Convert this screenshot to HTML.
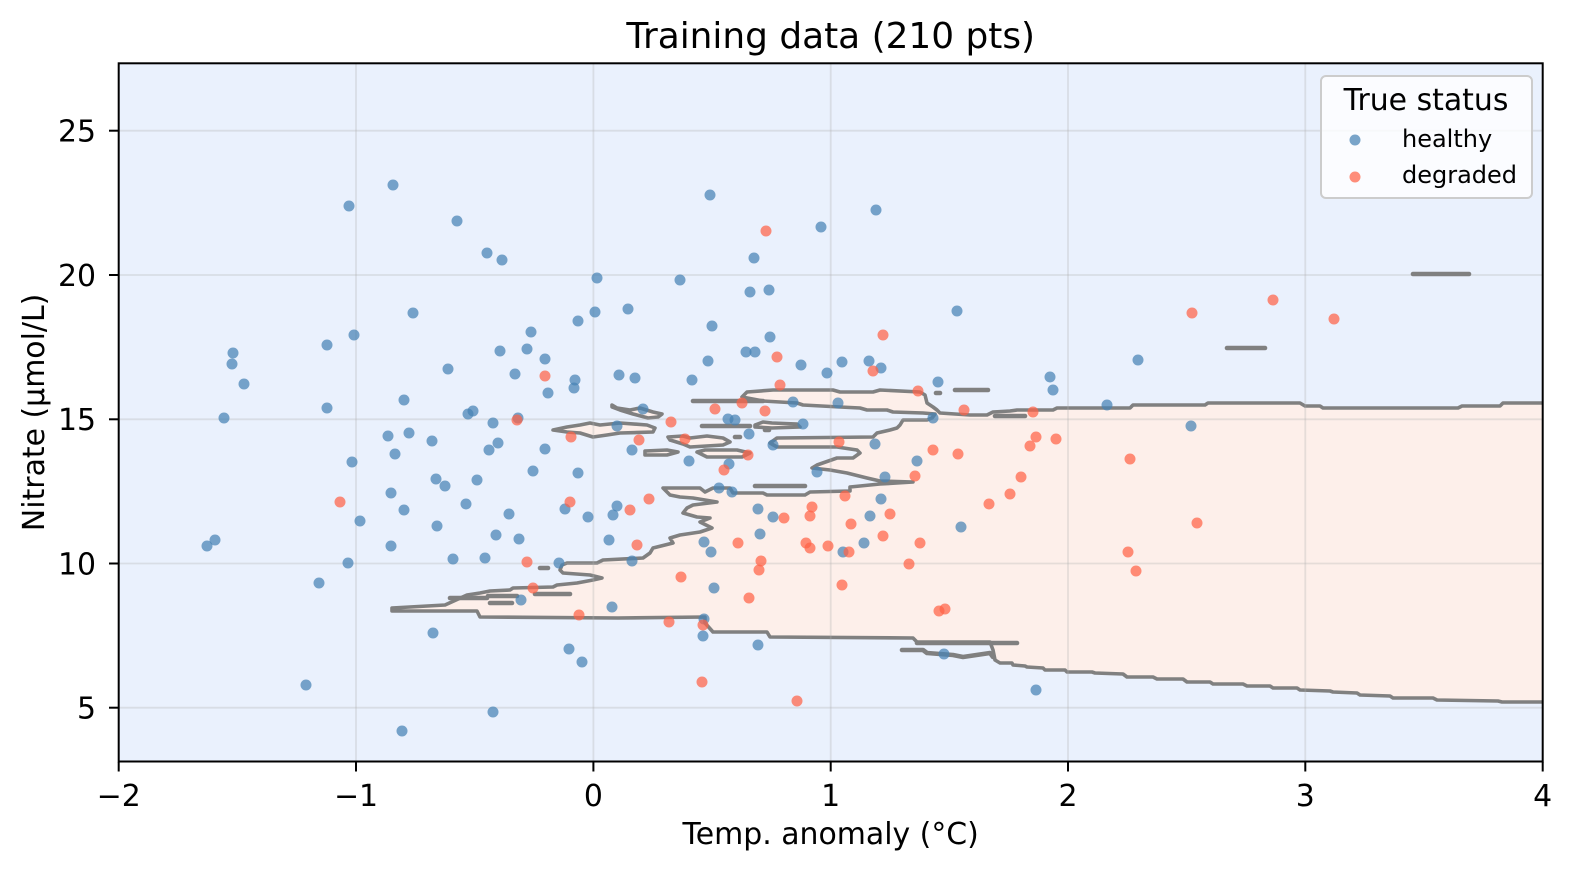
<!DOCTYPE html>
<html>
<head>
<meta charset="utf-8">
<style>
  html,body{margin:0;padding:0;background:#ffffff;}
  svg{display:block;}
  text{font-family:"DejaVu Sans","Liberation Sans",sans-serif;fill:#000;}
</style>
</head>
<body>
<svg width="1572" height="871" viewBox="0 0 1572 871" xmlns="http://www.w3.org/2000/svg">
  <defs>
    <clipPath id="ax">
      <rect x="118.7" y="63.3" width="1424" height="698.2"/>
    </clipPath>
  </defs>
  <rect x="0" y="0" width="1572" height="871" fill="#ffffff"/>

  <g clip-path="url(#ax)">
    <rect x="118.7" y="63.3" width="1424" height="698.2" fill="#eaf1fd"/>

    <path fill="#fdefea" stroke="#808080" stroke-width="3.6" stroke-linejoin="round"
      d="M1550,403 L1503,403 L1500,406 L1462,406 L1458,408 L1323,408 L1320,406 L1305,406 L1300,403 L1208,403 L1205,405 L1133,405 L1130,408 L1057,408 L1053,410 L1017,410 L1010,411 L993,412 L987,415 L970,415 L940,413 L937,410 L933,407 L927,403 L925,395 L920,392 L880,390 L873,392 L840,392 L833,390 L773,390 L747,392 L742,397 L763,401 L797,403 L803,405 L840,407 L860,408 L867,410 L887,410 L893,412 L923,413 L935,414 L932,418 L927,420 L917,420 L903,420 L900,425 L897,428 L890,430 L877,433 L873,437 L777,438 L770,443 L777,447 L837,447 L857,450 L860,453 L853,458 L837,458 L817,465 L812,468 L830,470 L847,473 L867,478 L880,481 L913,482 L880,484 L850,487 L850,491 L810,492 L805,495 L767,495 L763,493 L733,493 L730,488 L713,488 L705,492 L700,488 L663,488 L670,495 L680,497 L693,498 L717,502 L693,505 L687,508 L683,513 L697,517 L710,518 L700,522 L712,528 L700,532 L680,535 L670,538 L673,543 L653,548 L650,553 L643,558 L603,560 L597,563 L567,563 L562,565 L560,570 L563,573 L590,575 L602,578 L593,580 L577,583 L557,585 L553,587 L513,588 L510,590 L490,591 L480,593 L467,595 L445,605 L392,608 L392,611 L477,611 L480,617 L618,618 L705,617 L705,623 L713,632 L767,632 L770,637 L913,638 L917,642 L990,642 L993,650 L995,660 L1000,663 L1012,663 L1013,665 L1025,666 L1027,667 L1043,668 L1045,670 L1065,670 L1067,672 L1092,672 L1095,673 L1123,674 L1127,677 L1153,677 L1157,679 L1183,679 L1187,682 L1210,682 L1213,684 L1243,684 L1247,686 L1270,686 L1273,688 L1297,688 L1300,690 L1330,691 L1333,692 L1357,693 L1360,695 L1390,696 L1393,698 L1433,698 L1437,700 L1498,701 L1502,702 L1550,702 Z"/>

    <g fill="#fdefea" stroke="#808080" stroke-width="3.6" stroke-linejoin="round" stroke-linecap="round">
      <path d="M612,405 L617,408 L630,410 L640,408 L653,412 L662,414 L658,417 L648,418 L633,414 L620,410 L612,407 Z"/>
      <path d="M553,430 L567,427 L580,425 L590,423 L600,425 L620,423 L647,425 L655,428 L653,432 L620,433 L607,435 L593,437 L580,433 L567,432 Z"/>
      <path d="M668,437 L683,436 L690,438 L707,436 L723,438 L730,442 L723,445 L690,447 L683,444 L670,440 Z"/>
      <path d="M697,452 L705,450 L737,450 L750,453 L742,457 L707,457 Z"/>
      <path d="M755,425 L763,422 L772,423 L797,424 L800,427 L772,428 L755,427 Z"/>
      <path d="M645,451 L667,450 L678,452 L667,455 L645,455 Z"/>
    </g>

    <g stroke="#b0b0b0" stroke-opacity="0.3" stroke-width="1.8">
      <line x1="356" y1="63" x2="356" y2="762"/>
      <line x1="593.4" y1="63" x2="593.4" y2="762"/>
      <line x1="830.7" y1="63" x2="830.7" y2="762"/>
      <line x1="1068" y1="63" x2="1068" y2="762"/>
      <line x1="1305.3" y1="63" x2="1305.3" y2="762"/>
      <line x1="118" y1="130.7" x2="1543" y2="130.7"/>
      <line x1="118" y1="275" x2="1543" y2="275"/>
      <line x1="118" y1="419.3" x2="1543" y2="419.3"/>
      <line x1="118" y1="563.5" x2="1543" y2="563.5"/>
      <line x1="118" y1="707.7" x2="1543" y2="707.7"/>
    </g>

    <g fill="none" stroke="#808080" stroke-width="4.6" stroke-linecap="round" stroke-linejoin="round">
      <line x1="693" y1="401" x2="763" y2="401"/>
      <line x1="702" y1="426" x2="750" y2="426"/>
      <line x1="735" y1="437" x2="740" y2="437"/>
      <line x1="765" y1="430" x2="769" y2="430"/>
      <line x1="955" y1="390" x2="988" y2="390"/>
      <line x1="936" y1="393" x2="940" y2="393"/>
      <line x1="995" y1="416" x2="1025" y2="416"/>
      <line x1="1227" y1="348" x2="1265" y2="348"/>
      <line x1="1413" y1="274" x2="1469" y2="274"/>
      <line x1="755" y1="486" x2="805" y2="486"/>
      <line x1="917" y1="643" x2="1017" y2="643"/>
      <polyline points="902,650 923,650 927,653 953,655 963,657 990,653 993,657"/>
      <line x1="450" y1="598" x2="487" y2="598"/>
      <line x1="488" y1="596" x2="517" y2="596"/>
      <line x1="490" y1="603" x2="512" y2="603"/>
      <line x1="535" y1="594" x2="570" y2="594"/>
      <line x1="540" y1="568" x2="548" y2="568"/>
    </g>

    <g fill="#4682b4" fill-opacity="0.72">
      <circle cx="207" cy="546" r="5.5"/><circle cx="215" cy="540" r="5.5"/><circle cx="233" cy="353" r="5.5"/><circle cx="232" cy="364" r="5.5"/>
      <circle cx="244" cy="384" r="5.5"/><circle cx="224" cy="418" r="5.5"/><circle cx="306" cy="685" r="5.5"/><circle cx="319" cy="583" r="5.5"/>
      <circle cx="327" cy="408" r="5.5"/><circle cx="327" cy="345" r="5.5"/><circle cx="349" cy="206" r="5.5"/><circle cx="348" cy="563" r="5.5"/>
      <circle cx="352" cy="462" r="5.5"/><circle cx="354" cy="335" r="5.5"/><circle cx="360" cy="521" r="5.5"/><circle cx="393" cy="185" r="5.5"/>
      <circle cx="388" cy="436" r="5.5"/><circle cx="391" cy="493" r="5.5"/><circle cx="391" cy="546" r="5.5"/><circle cx="395" cy="454" r="5.5"/>
      <circle cx="402" cy="731" r="5.5"/><circle cx="404" cy="400" r="5.5"/><circle cx="404" cy="510" r="5.5"/><circle cx="409" cy="433" r="5.5"/>
      <circle cx="413" cy="313" r="5.5"/><circle cx="432" cy="441" r="5.5"/><circle cx="433" cy="633" r="5.5"/><circle cx="436" cy="479" r="5.5"/>
      <circle cx="437" cy="526" r="5.5"/><circle cx="445" cy="486" r="5.5"/><circle cx="448" cy="369" r="5.5"/><circle cx="453" cy="559" r="5.5"/>
      <circle cx="457" cy="221" r="5.5"/><circle cx="468" cy="414" r="5.5"/><circle cx="473" cy="411" r="5.5"/><circle cx="477" cy="480" r="5.5"/>
      <circle cx="485" cy="558" r="5.5"/><circle cx="487" cy="253" r="5.5"/><circle cx="489" cy="450" r="5.5"/><circle cx="493" cy="423" r="5.5"/>
      <circle cx="493" cy="712" r="5.5"/><circle cx="496" cy="535" r="5.5"/><circle cx="498" cy="443" r="5.5"/><circle cx="500" cy="351" r="5.5"/>
      <circle cx="502" cy="260" r="5.5"/><circle cx="509" cy="514" r="5.5"/><circle cx="515" cy="374" r="5.5"/><circle cx="518" cy="418" r="5.5"/>
      <circle cx="519" cy="539" r="5.5"/><circle cx="527" cy="349" r="5.5"/><circle cx="531" cy="332" r="5.5"/><circle cx="533" cy="471" r="5.5"/>
      <circle cx="545" cy="359" r="5.5"/><circle cx="545" cy="449" r="5.5"/><circle cx="548" cy="393" r="5.5"/><circle cx="559" cy="563" r="5.5"/>
      <circle cx="565" cy="509" r="5.5"/><circle cx="569" cy="649" r="5.5"/><circle cx="574" cy="388" r="5.5"/><circle cx="575" cy="380" r="5.5"/>
      <circle cx="578" cy="321" r="5.5"/><circle cx="582" cy="662" r="5.5"/><circle cx="588" cy="517" r="5.5"/><circle cx="595" cy="312" r="5.5"/>
      <circle cx="597" cy="278" r="5.5"/><circle cx="609" cy="540" r="5.5"/><circle cx="612" cy="607" r="5.5"/><circle cx="613" cy="515" r="5.5"/>
      <circle cx="617" cy="506" r="5.5"/><circle cx="617" cy="426" r="5.5"/><circle cx="619" cy="375" r="5.5"/><circle cx="628" cy="309" r="5.5"/>
      <circle cx="632" cy="450" r="5.5"/><circle cx="635" cy="378" r="5.5"/><circle cx="643" cy="409" r="5.5"/><circle cx="680" cy="280" r="5.5"/>
      <circle cx="689" cy="461" r="5.5"/><circle cx="692" cy="380" r="5.5"/><circle cx="703" cy="636" r="5.5"/><circle cx="704" cy="542" r="5.5"/>
      <circle cx="708" cy="361" r="5.5"/><circle cx="710" cy="195" r="5.5"/><circle cx="712" cy="326" r="5.5"/><circle cx="711" cy="552" r="5.5"/>
      <circle cx="714" cy="588" r="5.5"/><circle cx="719" cy="488" r="5.5"/><circle cx="728" cy="419" r="5.5"/><circle cx="729" cy="464" r="5.5"/>
      <circle cx="732" cy="492" r="5.5"/><circle cx="735" cy="420" r="5.5"/><circle cx="746" cy="352" r="5.5"/><circle cx="749" cy="434" r="5.5"/>
      <circle cx="750" cy="292" r="5.5"/><circle cx="754" cy="258" r="5.5"/><circle cx="755" cy="352" r="5.5"/><circle cx="758" cy="509" r="5.5"/>
      <circle cx="758" cy="645" r="5.5"/><circle cx="760" cy="534" r="5.5"/><circle cx="769" cy="290" r="5.5"/><circle cx="770" cy="337" r="5.5"/>
      <circle cx="773" cy="445" r="5.5"/><circle cx="773" cy="517" r="5.5"/><circle cx="793" cy="402" r="5.5"/><circle cx="801" cy="365" r="5.5"/>
      <circle cx="803" cy="424" r="5.5"/><circle cx="817" cy="472" r="5.5"/><circle cx="821" cy="227" r="5.5"/><circle cx="827" cy="373" r="5.5"/>
      <circle cx="838" cy="403" r="5.5"/><circle cx="842" cy="362" r="5.5"/><circle cx="843" cy="552" r="5.5"/><circle cx="864" cy="543" r="5.5"/>
      <circle cx="869" cy="361" r="5.5"/><circle cx="870" cy="516" r="5.5"/><circle cx="876" cy="210" r="5.5"/><circle cx="875" cy="444" r="5.5"/>
      <circle cx="881" cy="368" r="5.5"/><circle cx="881" cy="499" r="5.5"/><circle cx="885" cy="477" r="5.5"/><circle cx="917" cy="461" r="5.5"/>
      <circle cx="933" cy="418" r="5.5"/><circle cx="938" cy="382" r="5.5"/><circle cx="944" cy="654" r="5.5"/><circle cx="957" cy="311" r="5.5"/>
      <circle cx="961" cy="527" r="5.5"/><circle cx="1036" cy="690" r="5.5"/><circle cx="1050" cy="377" r="5.5"/><circle cx="1053" cy="390" r="5.5"/>
      <circle cx="1107" cy="405" r="5.5"/><circle cx="1138" cy="360" r="5.5"/><circle cx="1191" cy="426" r="5.5"/>
      <circle cx="466" cy="504" r="5.5"/><circle cx="578" cy="473" r="5.5"/><circle cx="632" cy="561" r="5.5"/><circle cx="521" cy="600" r="5.5"/>
      <circle cx="704" cy="619" r="5.5"/>
    </g>

    <g fill="#ff6347" fill-opacity="0.72">
      <circle cx="340" cy="502" r="5.5"/><circle cx="517" cy="420" r="5.5"/><circle cx="527" cy="562" r="5.5"/><circle cx="533" cy="588" r="5.5"/>
      <circle cx="545" cy="376" r="5.5"/><circle cx="571" cy="437" r="5.5"/><circle cx="570" cy="502" r="5.5"/><circle cx="579" cy="615" r="5.5"/>
      <circle cx="630" cy="510" r="5.5"/><circle cx="637" cy="545" r="5.5"/><circle cx="639" cy="440" r="5.5"/><circle cx="649" cy="499" r="5.5"/>
      <circle cx="669" cy="622" r="5.5"/><circle cx="671" cy="422" r="5.5"/><circle cx="681" cy="577" r="5.5"/><circle cx="685" cy="439" r="5.5"/>
      <circle cx="702" cy="682" r="5.5"/><circle cx="703" cy="625" r="5.5"/><circle cx="715" cy="409" r="5.5"/><circle cx="724" cy="470" r="5.5"/>
      <circle cx="738" cy="543" r="5.5"/><circle cx="742" cy="403" r="5.5"/><circle cx="748" cy="455" r="5.5"/><circle cx="749" cy="598" r="5.5"/>
      <circle cx="759" cy="570" r="5.5"/><circle cx="761" cy="561" r="5.5"/><circle cx="766" cy="231" r="5.5"/><circle cx="765" cy="411" r="5.5"/>
      <circle cx="777" cy="357" r="5.5"/><circle cx="780" cy="385" r="5.5"/><circle cx="784" cy="518" r="5.5"/><circle cx="797" cy="701" r="5.5"/>
      <circle cx="806" cy="543" r="5.5"/><circle cx="810" cy="548" r="5.5"/><circle cx="810" cy="516" r="5.5"/><circle cx="812" cy="507" r="5.5"/>
      <circle cx="828" cy="546" r="5.5"/><circle cx="839" cy="442" r="5.5"/><circle cx="842" cy="585" r="5.5"/><circle cx="845" cy="496" r="5.5"/>
      <circle cx="849" cy="552" r="5.5"/><circle cx="851" cy="524" r="5.5"/><circle cx="873" cy="371" r="5.5"/><circle cx="883" cy="335" r="5.5"/>
      <circle cx="883" cy="536" r="5.5"/><circle cx="890" cy="514" r="5.5"/><circle cx="909" cy="564" r="5.5"/><circle cx="915" cy="476" r="5.5"/>
      <circle cx="918" cy="391" r="5.5"/><circle cx="920" cy="543" r="5.5"/><circle cx="933" cy="450" r="5.5"/><circle cx="939" cy="611" r="5.5"/>
      <circle cx="945" cy="609" r="5.5"/><circle cx="958" cy="454" r="5.5"/><circle cx="964" cy="410" r="5.5"/><circle cx="989" cy="504" r="5.5"/>
      <circle cx="1010" cy="494" r="5.5"/><circle cx="1021" cy="477" r="5.5"/><circle cx="1030" cy="446" r="5.5"/><circle cx="1033" cy="412" r="5.5"/>
      <circle cx="1036" cy="437" r="5.5"/><circle cx="1056" cy="439" r="5.5"/><circle cx="1130" cy="459" r="5.5"/><circle cx="1128" cy="552" r="5.5"/>
      <circle cx="1136" cy="571" r="5.5"/><circle cx="1192" cy="313" r="5.5"/><circle cx="1197" cy="523" r="5.5"/><circle cx="1273" cy="300" r="5.5"/>
      <circle cx="1334" cy="319" r="5.5"/>
    </g>
  </g>

  <rect x="118.7" y="63.3" width="1424" height="698.2" fill="none" stroke="#000" stroke-width="2"/>

  <g stroke="#000" stroke-width="2">
    <line x1="118.7" y1="762" x2="118.7" y2="771.5"/>
    <line x1="356" y1="762" x2="356" y2="771.5"/>
    <line x1="593.4" y1="762" x2="593.4" y2="771.5"/>
    <line x1="830.7" y1="762" x2="830.7" y2="771.5"/>
    <line x1="1068" y1="762" x2="1068" y2="771.5"/>
    <line x1="1305.3" y1="762" x2="1305.3" y2="771.5"/>
    <line x1="1542.7" y1="762" x2="1542.7" y2="771.5"/>
    <line x1="109" y1="130.7" x2="118.7" y2="130.7"/>
    <line x1="109" y1="275" x2="118.7" y2="275"/>
    <line x1="109" y1="419.3" x2="118.7" y2="419.3"/>
    <line x1="109" y1="563.5" x2="118.7" y2="563.5"/>
    <line x1="109" y1="707.7" x2="118.7" y2="707.7"/>
  </g>

  <g font-size="29.9" text-anchor="middle">
    <text x="118.7" y="806">−2</text>
    <text x="356" y="806">−1</text>
    <text x="593.4" y="806">0</text>
    <text x="830.7" y="806">1</text>
    <text x="1068" y="806">2</text>
    <text x="1305.3" y="806">3</text>
    <text x="1542.7" y="806">4</text>
  </g>
  <g font-size="29.9" text-anchor="end">
    <text x="96" y="141.6">25</text>
    <text x="96" y="285.9">20</text>
    <text x="96" y="430.2">15</text>
    <text x="96" y="574.4">10</text>
    <text x="96" y="718.6">5</text>
  </g>

  <text x="830.7" y="844" font-size="29.9" text-anchor="middle">Temp. anomaly (°C)</text>
  <text transform="translate(44,412.4) rotate(-90)" font-size="29.9" text-anchor="middle">Nitrate (µmol/L)</text>
  <text x="830.7" y="48" font-size="35.9" text-anchor="middle">Training data (210 pts)</text>

  <rect x="1321" y="76" width="211" height="122" rx="5" ry="5" fill="#ffffff" fill-opacity="0.8" stroke="#cccccc" stroke-width="2"/>
  <text x="1426" y="110" font-size="29.9" text-anchor="middle">True status</text>
  <circle cx="1355" cy="140" r="5.5" fill="#4682b4" fill-opacity="0.72"/>
  <text x="1402" y="147" font-size="24">healthy</text>
  <circle cx="1355" cy="177" r="5.5" fill="#ff6347" fill-opacity="0.72"/>
  <text x="1402" y="183" font-size="24">degraded</text>
</svg>
</body>
</html>
